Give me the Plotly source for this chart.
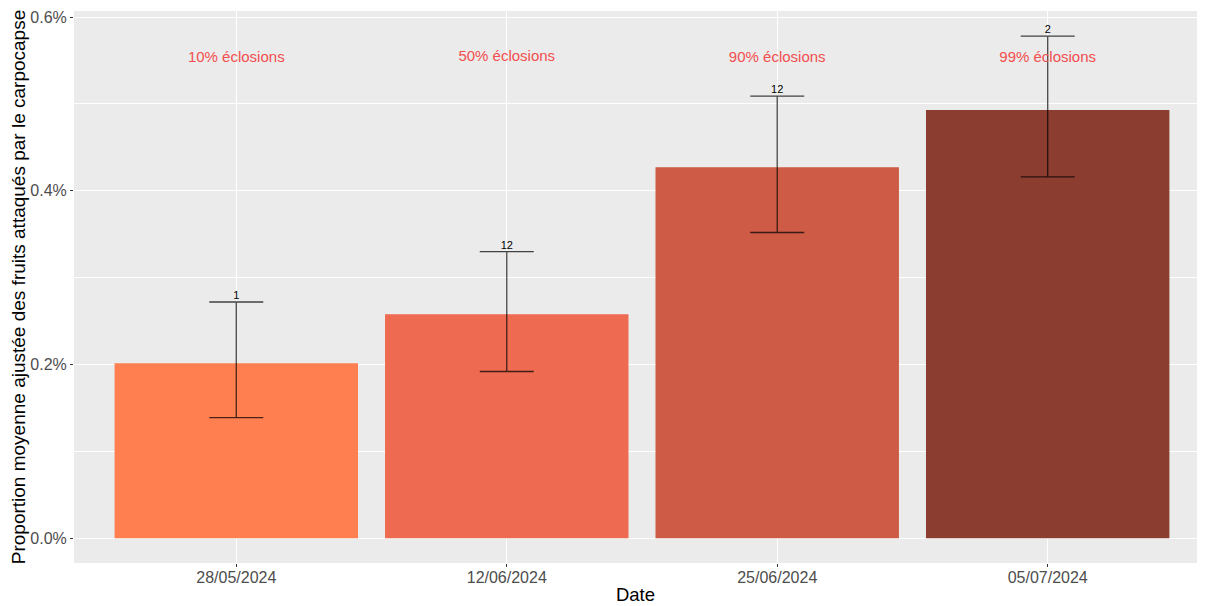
import plotly.graph_objects as go

dates = ["28/05/2024", "12/06/2024", "25/06/2024", "05/07/2024"]
mean_pct = [0.2015, 0.258, 0.427, 0.493]
upper_pct = [0.272, 0.330, 0.509, 0.578]
lower_pct = [0.139, 0.192, 0.352, 0.416]
n_labels = ["1", "12", "12", "2"]
hatch_labels = ["10% éclosions", "50% éclosions", "90% éclosions", "99% éclosions"]
hatch_y = [0.552, 0.554, 0.552, 0.552]
bar_colors = ["#FF7F50", "#EE6A50", "#CD5B45", "#8B3E2F"]

err_plus = [u - m for u, m in zip(upper_pct, mean_pct)]
err_minus = [m - l for m, l in zip(mean_pct, lower_pct)]

FONT = "Liberation Sans, Arial, sans-serif"

fig = go.Figure()
fig.add_trace(go.Bar(
    x=dates, y=mean_pct, width=0.9,
    marker=dict(color=bar_colors, line=dict(width=0)),
    error_y=dict(type="data", symmetric=False, array=err_plus, arrayminus=err_minus,
                 color="rgba(0,0,0,0.72)", thickness=1.3, width=27),
    showlegend=False, hoverinfo="skip",
))
fig.add_trace(go.Scatter(
    x=dates, y=upper_pct, mode="text", text=n_labels, textposition="top center",
    textfont=dict(family=FONT, size=11, color="black"), showlegend=False, hoverinfo="skip",
))
fig.add_trace(go.Scatter(
    x=dates, y=hatch_y, mode="text", text=hatch_labels, textposition="middle center",
    textfont=dict(family=FONT, size=15, color="#F24E4E"), showlegend=False, hoverinfo="skip",
))

fig.update_layout(
    width=1189, height=598,
    margin=dict(l=66, r=0, t=3, b=43),
    paper_bgcolor="white", plot_bgcolor="#EBEBEB",
    font=dict(family=FONT),
    bargap=0.1,
)
fig.update_xaxes(
    type="category", range=[-0.6, 3.552],
    showgrid=True, gridcolor="white", gridwidth=1.1,
    ticks="outside", ticklen=3, tickcolor="#333333", tickwidth=1,
    tickfont=dict(family=FONT, size=16, color="#4D4D4D"), ticklabelstandoff=-3,
    title=dict(text="Date", font=dict(family=FONT, size=18.5, color="black"), standoff=2),
    zeroline=False, showline=False, automargin=False,
)
fig.update_yaxes(
    range=[-0.0284, 0.6069], tick0=0, dtick=0.2, tickformat=".1f", ticksuffix="%",
    showgrid=True, gridcolor="white", gridwidth=1.1,
    minor=dict(dtick=0.1, showgrid=True, gridcolor="white", gridwidth=0.5),
    ticks="outside", ticklen=3, tickcolor="#333333", tickwidth=1,
    tickfont=dict(family=FONT, size=16, color="#4D4D4D"),
    title=dict(text="Proportion moyenne ajustée des fruits attaqués par le carpocapse",
               font=dict(family=FONT, size=19, color="black"), standoff=4),
    zeroline=False, showline=False, automargin=False,
)

fig.write_html("out.html")
